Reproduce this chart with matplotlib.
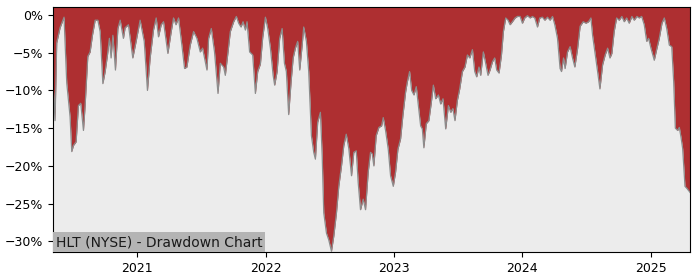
import numpy as np
import pandas as pd
import matplotlib
matplotlib.use("Agg")
import matplotlib.pyplot as plt
import matplotlib.dates as mdates
from matplotlib.ticker import FuncFormatter

# time in decimal years, drawdown in percent
years = [
    2020.345, 2020.361, 2020.374, 2020.400, 2020.431, 2020.452, 2020.478, 2020.491, 2020.504, 2020.525,
    2020.543, 2020.561, 2020.582, 2020.595, 2020.616, 2020.634, 2020.652, 2020.673, 2020.694, 2020.712,
    2020.733, 2020.751, 2020.769, 2020.784, 2020.797, 2020.811, 2020.831, 2020.850, 2020.868, 2020.893,
    2020.906, 2020.932, 2020.966, 2020.992, 2021.023, 2021.055, 2021.080, 2021.101, 2021.127, 2021.148,
    2021.166, 2021.187, 2021.205, 2021.239, 2021.265, 2021.283, 2021.302, 2021.322, 2021.348, 2021.369,
    2021.387, 2021.413, 2021.439, 2021.465, 2021.491, 2021.509, 2021.530, 2021.543, 2021.556, 2021.577,
    2021.602, 2021.629, 2021.647, 2021.673, 2021.686, 2021.707, 2021.725, 2021.751, 2021.772, 2021.790,
    2021.808, 2021.824, 2021.842, 2021.855, 2021.875, 2021.899, 2021.920, 2021.938, 2021.959, 2021.977,
    2021.998, 2022.016, 2022.037, 2022.058, 2022.070, 2022.089, 2022.109, 2022.128, 2022.146, 2022.161,
    2022.179, 2022.198, 2022.214, 2022.231, 2022.249, 2022.265, 2022.284, 2022.296, 2022.317, 2022.335,
    2022.356, 2022.374, 2022.387, 2022.405, 2022.426, 2022.440, 2022.452, 2022.473, 2022.491, 2022.512,
    2022.530, 2022.551, 2022.569, 2022.590, 2022.608, 2022.627, 2022.647, 2022.668, 2022.686, 2022.705,
    2022.720, 2022.738, 2022.759, 2022.777, 2022.798, 2022.816, 2022.829, 2022.842, 2022.860, 2022.881,
    2022.902, 2022.915, 2022.933, 2022.954, 2022.972, 2022.993, 2023.011, 2023.029, 2023.050, 2023.068,
    2023.089, 2023.102, 2023.120, 2023.136, 2023.154, 2023.172, 2023.188, 2023.206, 2023.219, 2023.231,
    2023.250, 2023.270, 2023.289, 2023.305, 2023.323, 2023.344, 2023.362, 2023.380, 2023.401, 2023.422,
    2023.440, 2023.457, 2023.473, 2023.492, 2023.510, 2023.531, 2023.551, 2023.570, 2023.588, 2023.609,
    2023.627, 2023.642, 2023.660, 2023.673, 2023.694, 2023.712, 2023.730, 2023.746, 2023.765, 2023.782,
    2023.798, 2023.816, 2023.835, 2023.850, 2023.868, 2023.886, 2023.902, 2023.920, 2023.941, 2023.959,
    2023.980, 2023.998, 2024.016, 2024.037, 2024.058, 2024.076, 2024.094, 2024.115, 2024.133, 2024.154,
    2024.172, 2024.193, 2024.213, 2024.232, 2024.250, 2024.271, 2024.291, 2024.302, 2024.318, 2024.330,
    2024.349, 2024.369, 2024.388, 2024.406, 2024.427, 2024.447, 2024.471, 2024.492, 2024.513, 2024.531,
    2024.544, 2024.562, 2024.583, 2024.601, 2024.622, 2024.642, 2024.661, 2024.679, 2024.694, 2024.712,
    2024.731, 2024.751, 2024.772, 2024.790, 2024.809, 2024.829, 2024.850, 2024.868, 2024.889, 2024.907,
    2024.926, 2024.946, 2024.965, 2024.980, 2024.998, 2025.024, 2025.045, 2025.063, 2025.084, 2025.102,
    2025.121, 2025.141, 2025.160, 2025.175, 2025.188, 2025.206, 2025.219, 2025.232, 2025.245, 2025.263,
    2025.279, 2025.302,
]
drawdown = [
    -8.7, -14.0, -3.7, -1.7, -0.3, -9.0, -13.5, -18.1, -17.3, -16.8,
    -12.0, -11.7, -15.3, -12.0, -5.5, -4.9, -2.7, -0.7, -0.7, -2.2,
    -9.1, -7.5, -5.3, -3.1, -5.7, -2.7, -7.3, -1.8, -0.7, -3.1,
    -1.7, -1.3, -5.7, -3.5, -0.7, -3.5, -10.0, -5.7, -2.0, -0.4,
    -2.9, -1.3, -0.9, -5.1, -2.2, -0.4, -1.3, -0.4, -4.0, -7.1,
    -6.9, -4.0, -2.2, -3.1, -4.9, -4.4, -6.2, -7.3, -3.1, -1.8,
    -4.9, -10.4, -6.4, -6.9, -8.0, -4.9, -2.2, -0.9, -0.2, -1.1,
    -1.6, -0.9, -2.0, -0.9, -4.9, -5.3, -10.4, -7.5, -6.5, -3.0,
    -0.3, -1.8, -4.4, -8.0, -9.3, -7.5, -3.1, -1.8, -6.4, -7.5,
    -13.2, -8.8, -5.7, -4.4, -3.5, -7.3, -4.0, -1.6, -3.5, -7.5,
    -16.0, -18.2, -19.1, -14.2, -12.9, -18.7, -26.2, -28.9, -29.8, -31.3,
    -29.3, -26.2, -22.7, -20.0, -17.3, -15.8, -17.7, -21.3, -18.2, -18.0,
    -22.2, -25.8, -24.4, -25.8, -20.8, -18.2, -18.4, -20.0, -16.0, -14.9,
    -14.7, -13.6, -15.3, -17.8, -21.3, -22.7, -20.8, -17.8, -16.4, -13.3,
    -10.2, -8.9, -7.5, -10.0, -10.6, -9.5, -12.0, -14.7, -15.1, -17.6,
    -14.4, -14.0, -11.6, -9.3, -11.1, -10.6, -11.8, -11.1, -15.1, -12.0,
    -12.9, -12.4, -14.0, -11.3, -9.8, -7.5, -6.9, -5.3, -5.7, -4.6,
    -7.5, -8.2, -6.9, -8.0, -4.9, -6.4, -8.0, -7.3, -6.2, -5.7,
    -7.3, -7.7, -5.3, -2.2, -0.4, -0.7, -1.3, -0.9, -0.4, -0.2,
    -0.2, -1.1, -0.4, -0.1, -0.4, -0.2, -0.4, -1.6, -0.4, -0.3,
    -0.7, -0.3, -0.7, -0.2, -1.3, -3.1, -7.1, -7.5, -5.7, -7.1,
    -4.9, -4.2, -5.7, -6.9, -4.5, -1.5, -0.9, -1.1, -0.9, -0.4,
    -2.7, -4.9, -7.5, -9.8, -6.6, -5.3, -4.4, -5.7, -5.1, -2.2,
    -0.4, -0.7, -0.2, -0.9, -0.4, -1.1, -0.2, -0.7, -0.2, -0.4,
    -0.2, -1.3, -3.5, -3.1, -4.4, -6.0, -4.4, -3.1, -1.1, -0.4,
    -1.8, -4.0, -4.2, -8.8, -15.0, -15.3, -14.9, -16.2, -17.7, -22.7,
    -23.0, -23.5,
]
y_ticks = [0, -5, -10, -15, -20, -25, -30]
label_text = "HLT (NYSE) - Drawdown Chart"

yrs = np.array(years)
dates = pd.Timestamp("2021-01-01") + pd.to_timedelta((yrs - 2021.0) * 365.25, unit="D")
dd = np.array(drawdown)

y_top = 1.05
fig = plt.figure(figsize=(7, 2.8), dpi=100)
ax = fig.add_axes([0.0757, 0.1, 0.91, 0.875])
ax.set_facecolor("#ececec")
ax.fill_between(dates, dd, y_top, color="#ae2f31", linewidth=0)
ax.plot(dates, dd, color="#8c8c8c", linewidth=0.9)

ax.set_xlim(dates[0], dates[-1])
ax.set_ylim(-31.4, y_top)
ax.set_yticks(y_ticks)
ax.yaxis.set_major_formatter(FuncFormatter(lambda v, p: f"{v:.0f}%".replace("-", "\u2212")))
ax.xaxis.set_major_locator(mdates.YearLocator())
ax.xaxis.set_major_formatter(mdates.DateFormatter("%Y"))
ax.tick_params(labelsize=9)

ax.text(0.0045, 0.012, label_text, transform=ax.transAxes, fontsize=10, color="#1a1a1a",
        ha="left", va="bottom",
        bbox=dict(facecolor="#b4b4b4", edgecolor="none", pad=2))

fig.savefig("out.png", dpi=100)
